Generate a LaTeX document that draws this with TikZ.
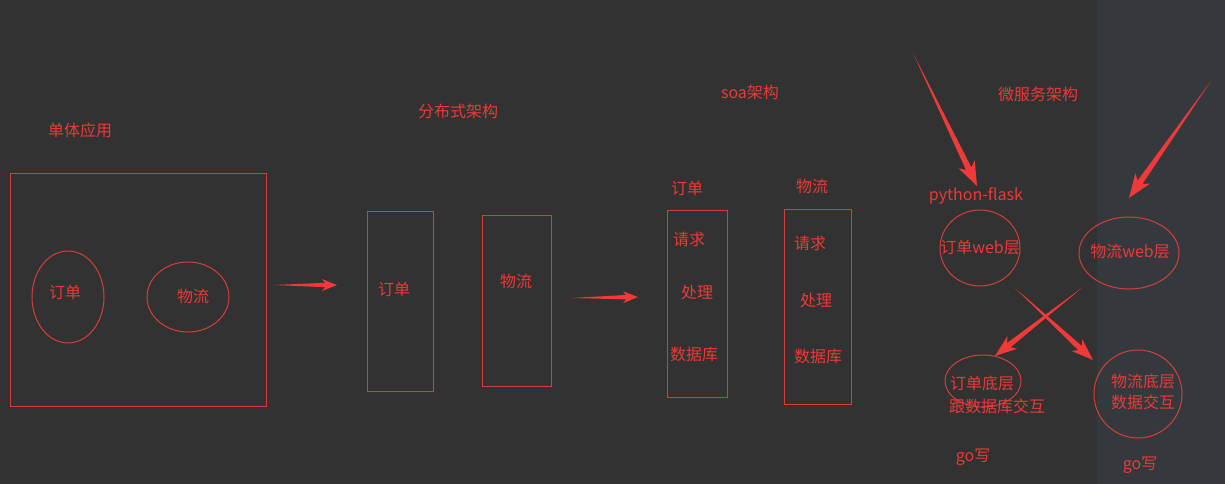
\documentclass[tikz,border=0pt]{standalone}
\usepackage{fontspec}
\setmainfont{Noto Sans CJK SC}
\usetikzlibrary{calc,shapes.geometric}
\definecolor{bgdark}{RGB}{50,50,50}
\definecolor{bgright}{RGB}{53,57,61}
\definecolor{txtred}{RGB}{238,56,56}
\definecolor{linered}{RGB}{214,62,62}
\definecolor{arrred}{RGB}{240,58,58}
% #1 tail, #2 tip, #3 head length, #4 head half width, #5 neck half width
\newcommand\tarrow[5]{%
  \fill[arrred] (#1) -- ($(#2)!#3*0.8!(#1)!#5!90:(#2)$) -- ($(#2)!#3!(#1)!#4!90:(#2)$) -- (#2)
    -- ($(#2)!#3!(#1)!#4!-90:(#2)$) -- ($(#2)!#3*0.8!(#1)!#5!-90:(#2)$) -- cycle;}
\tikzset{
  lbl/.style={text=txtred, font=\fontsize{16}{18}\selectfont, inner sep=0pt},
  box/.style={draw=linered, line width=1pt, inner sep=0pt},
  oval/.style={ellipse, draw=linered, line width=1pt, inner sep=0pt},
}
\begin{document}
\begin{tikzpicture}[x=1pt,y=-1pt]
\fill[bgdark] (0,0) rectangle (1225,484);
\fill[bgright] (1097,0) rectangle (1225,484);
\useasboundingbox (0,0) rectangle (1225,484);

% --- monolith
\node[lbl] (t1) at (80,130) {单体应用};
\node[box, minimum width=256pt, minimum height=233pt] (mono) at (138,289.5) {};
\node[oval, minimum width=72pt, minimum height=92pt] (monoA) at (68,297) {};
\node[lbl] (monoAt) at (65,292) {订单};
\node[oval, minimum width=82pt, minimum height=70pt] (monoB) at (188,297) {};
\node[lbl] (monoBt) at (193,296) {物流};

\coordinate (a1s) at (274,285);
\coordinate (a1e) at (337,285);
\tarrow{a1s}{a1e}{15pt}{6pt}{2.2pt}

% --- distributed
\node[lbl] (t2) at (458,111) {分布式架构};
\node[box, minimum width=66pt, minimum height=180pt] (distA) at (400,301) {};
\node[lbl] (distAt) at (394,289) {订单};
\node[box, minimum width=69pt, minimum height=171pt] (distB) at (516.5,300.5) {};
\node[lbl] (distBt) at (516,281) {物流};

\coordinate (a2s) at (571,298);
\coordinate (a2e) at (638,297);
\tarrow{a2s}{a2e}{15pt}{6pt}{2.2pt}

% --- soa
\node[lbl] (t3) at (750,92) {soa架构};
\node[lbl] (soaAh) at (687,188) {订单};
\node[box, minimum width=60pt, minimum height=187pt] (soaA) at (697,303.5) {};
\node[lbl] (soaA1) at (689,239) {请求};
\node[lbl] (soaA2) at (697,292) {处理};
\node[lbl] (soaA3) at (694,354) {数据库};
\node[lbl] (soaBh) at (812,186) {物流};
\node[box, minimum width=67pt, minimum height=195pt] (soaB) at (817.5,306.5) {};
\node[lbl] (soaB1) at (810,243) {请求};
\node[lbl] (soaB2) at (816,300) {处理};
\node[lbl] (soaB3) at (818,356) {数据库};

% --- microservices
\node[lbl] (t4) at (1038,94) {微服务架构};
\node[lbl] (py) at (976,196) {python-flask};
\node[oval, minimum width=80pt, minimum height=76pt] (webA) at (980,248) {};
\node[lbl] (webAt) at (980,248) {订单web层};
\node[oval, minimum width=100pt, minimum height=72pt] (webB) at (1129,253) {};
\node[lbl] (webBt) at (1130,251) {物流web层};
\node[oval, minimum width=76pt, minimum height=52pt] (dbA) at (983,381) {};
\node[lbl] (dbAt1) at (982,383) {订单底层};
\node[lbl] (dbAt2) at (997,406) {跟数据库交互};
\node[oval, minimum width=88pt, minimum height=88pt] (dbB) at (1138,394) {};
\node[lbl] (dbBt1) at (1143,381) {物流底层};
\node[lbl] (dbBt2) at (1143,402) {数据交互};
\node[lbl] (goA) at (973,457) {go写};
\node[lbl] (goB) at (1140,465) {go写};

\coordinate (a3s) at (913,53);
\coordinate (a3e) at (977,186);
\tarrow{a3s}{a3e}{24pt}{9pt}{3pt}
\coordinate (a4s) at (1211,81);
\coordinate (a4e) at (1129,198);
\tarrow{a4s}{a4e}{24pt}{9pt}{3pt}
\coordinate (a5s) at (1083,287);
\coordinate (a5e) at (995,356);
\tarrow{a5s}{a5e}{22pt}{8pt}{2.8pt}
\coordinate (a6s) at (1015,288);
\coordinate (a6e) at (1093,360);
\tarrow{a6s}{a6e}{22pt}{8pt}{2.8pt}
\end{tikzpicture}
\end{document}
